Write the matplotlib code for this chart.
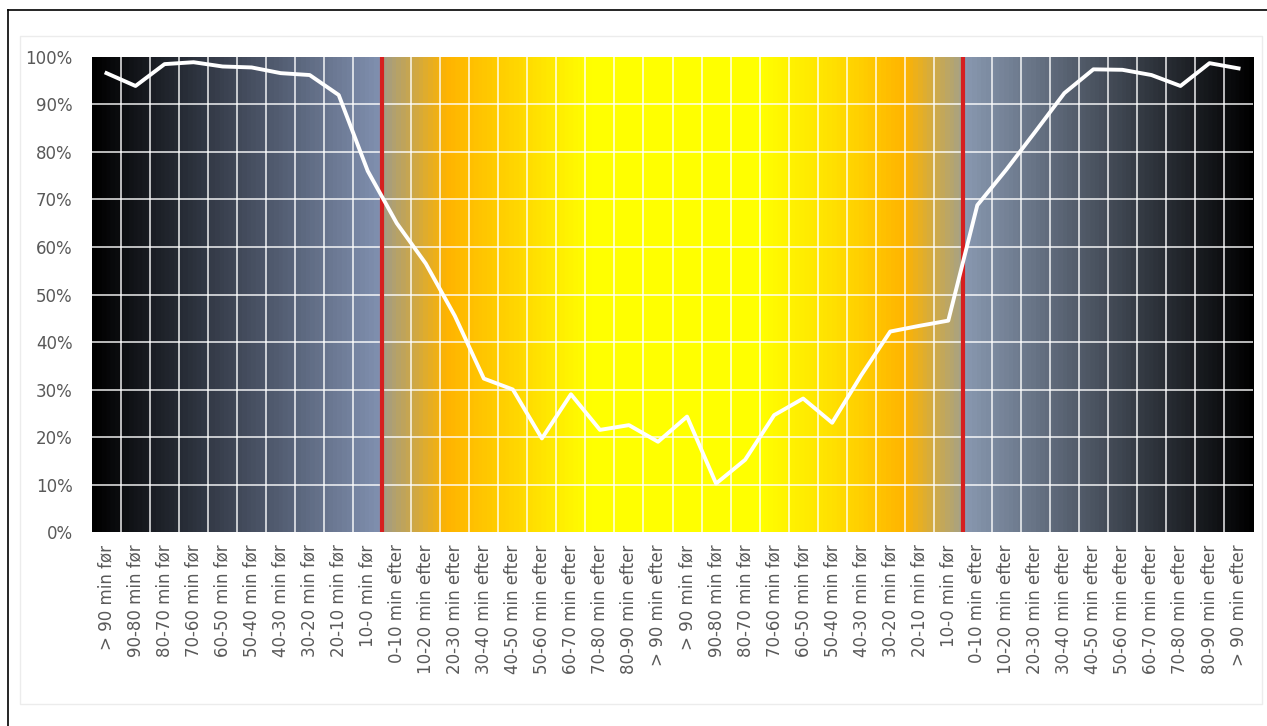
import numpy as np
import matplotlib
matplotlib.use("Agg")
import matplotlib.pyplot as plt
from matplotlib.colors import LinearSegmentedColormap
from matplotlib.lines import Line2D
from matplotlib.patches import Rectangle

# categories (x axis)
before = ["> 90 min før", "90-80 min før", "80-70 min før", "70-60 min før", "60-50 min før",
          "50-40 min før", "40-30 min før", "30-20 min før", "20-10 min før", "10-0 min før"]
after = ["0-10 min efter", "10-20 min efter", "20-30 min efter", "30-40 min efter", "40-50 min efter",
         "50-60 min efter", "60-70 min efter", "70-80 min efter", "80-90 min efter", "> 90 min efter"]
labels = before + after + before + after

# share per interval (%)
values = [96.6, 93.9, 98.5, 98.9, 98.0, 97.8, 96.6, 96.2, 92.0, 76.0,
          65.0, 56.5, 45.5, 32.3, 30.0, 19.7, 29.0, 21.5, 22.5, 19.0,
          24.3, 10.2, 15.2, 24.6, 28.1, 23.0, 33.0, 42.2, 43.4, 44.5,
          68.8, 76.3, 84.3, 92.4, 97.4, 97.3, 96.2, 93.9, 98.7, 97.6]

# sunrise / sunset markers (between categories)
events = [9.5, 29.5]

# background gradient stops: (position on x, colour)
grad_pos = [-0.5, 9.49, 9.51, 11.7, 14.2, 16.6, 22.5, 24.9, 27.5, 29.49, 29.51, 39.5]
grad_col = ["#000000", "#8292b2", "#a39d84", "#ffb400", "#ffd800", "#ffff00",
            "#ffff00", "#ffe200", "#ffb400", "#a6a286", "#8a9ab2", "#000000"]

x = np.arange(len(labels))
lo, hi = -0.5, len(labels) - 0.5

fig = plt.figure(figsize=(12.67, 7.26), dpi=100)

# light chart-area box and screenshot frame
fig.add_artist(Rectangle((0.016, 0.03), 0.98, 0.92, transform=fig.transFigure,
                         fill=False, edgecolor="#ececec", lw=1))
fig.add_artist(Line2D([0.0063, 1.0], [0.986, 0.986], color="black", lw=1.2))
fig.add_artist(Line2D([0.0063, 0.0063], [0.0, 0.986], color="black", lw=1.2))

ax = fig.add_axes([0.0726, 0.2672, 0.9164, 0.6543])

cmap = LinearSegmentedColormap.from_list(
    "daynight", [((p - lo) / (hi - lo), c) for p, c in zip(grad_pos, grad_col)])
grad = np.linspace(0, 1, 1200).reshape(1, -1)
ax.imshow(grad, cmap=cmap, aspect="auto", extent=[lo, hi, 0, 100], zorder=0)

# grid
for yv in range(10, 100, 10):
    ax.axhline(yv, color="white", lw=1.2, alpha=0.85, zorder=1)
for k in range(1, len(labels)):
    ax.axvline(k - 0.5, color="white", lw=1.2, alpha=0.85, zorder=1)

for e in events:
    ax.axvline(e, color="#d61f1f", lw=3, zorder=2)

ax.plot(x, values, color="white", lw=2.8, zorder=3, solid_joinstyle="round")

ax.set_xlim(lo, hi)
ax.set_ylim(0, 100)
ax.set_yticks(range(0, 101, 10))
ax.set_yticklabels([f"{v}%" for v in range(0, 101, 10)])
ax.set_xticks(x)
ax.set_xticklabels(labels, rotation=90, va="top", ha="center")
ax.tick_params(length=0, colors="#595959")
ax.tick_params(axis="y", pad=14, labelsize=12)
ax.tick_params(axis="x", pad=9, labelsize=12)
for s in ax.spines.values():
    s.set_visible(False)

fig.savefig("out.png", dpi=100)
